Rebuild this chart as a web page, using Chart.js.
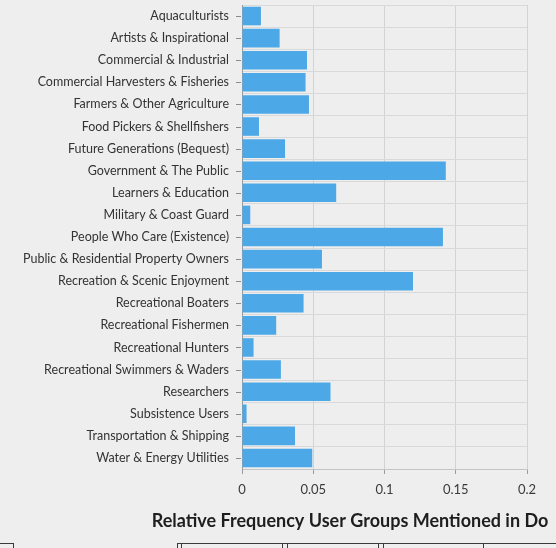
<!DOCTYPE html>
<html>
<head>
<meta charset="utf-8">
<script src="https://cdn.jsdelivr.net/npm/chart.js@4/dist/chart.umd.min.js"></script>
<style>
  html, body { margin: 0; padding: 0; background: #eeeeee; }
  #wrap { position: relative; width: 556px; height: 548px; overflow: hidden; }
  canvas { display: block; }
  .rule { position: absolute; background: #3a3a3a; }
</style>
</head>
<body>
<div id="wrap">
  <canvas id="c" width="556" height="548"></canvas>
  <!-- top edge of the table that follows the chart -->
  <div class="rule" style="left:0;top:543px;width:14px;height:1px"></div>
  <div class="rule" style="left:177px;top:543px;width:379px;height:1px"></div>
  <div class="rule" style="left:13px;top:543px;width:1px;height:5px"></div>
  <div class="rule" style="left:177px;top:543px;width:1px;height:5px"></div>
  <div class="rule" style="left:181px;top:543px;width:1px;height:5px"></div>
  <div class="rule" style="left:282px;top:543px;width:1px;height:5px"></div>
  <div class="rule" style="left:287px;top:543px;width:1px;height:5px"></div>
  <div class="rule" style="left:378px;top:543px;width:1px;height:5px"></div>
  <div class="rule" style="left:383px;top:543px;width:1px;height:5px"></div>
  <div class="rule" style="left:483px;top:543px;width:1px;height:5px"></div>
</div>
<script>
// User groups and how often each one is mentioned (relative frequency)
const userGroups = [
  'Aquaculturists',
  'Artists & Inspirational',
  'Commercial & Industrial',
  'Commercial Harvesters & Fisheries',
  'Farmers & Other Agriculture',
  'Food Pickers & Shellfishers',
  'Future Generations (Bequest)',
  'Government & The Public',
  'Learners & Education',
  'Military & Coast Guard',
  'People Who Care (Existence)',
  'Public & Residential Property Owners',
  'Recreation & Scenic Enjoyment',
  'Recreational Boaters',
  'Recreational Fishermen',
  'Recreational Hunters',
  'Recreational Swimmers & Waders',
  'Researchers',
  'Subsistence Users',
  'Transportation & Shipping',
  'Water & Energy Utilities'
];

const relativeFrequency = [
  0.0133, 0.0264, 0.0456, 0.0446, 0.0470, 0.0119, 0.0302,
  0.1430, 0.0661, 0.0058, 0.1410, 0.0561, 0.1200, 0.0432,
  0.0240, 0.0081, 0.0273, 0.0621, 0.0032, 0.0372, 0.0493
];

const xTickValues = [0, 0.05, 0.1, 0.15, 0.2];
const captionText = 'Relative Frequency User Groups Mentioned in Do';

const FONT = 'Lato, "Noto Sans", sans-serif';

// Short dashes at each category centre on the left axis, plus the caption
const axisExtras = {
  id: 'axisExtras',
  afterDraw(chart) {
    const ctx = chart.ctx;
    const y = chart.scales.y;
    ctx.save();
    ctx.strokeStyle = '#8a8a8a';
    ctx.lineWidth = 1;
    y.ticks.forEach((t, i) => {
      const py = Math.round(y.getPixelForTick(i)) + 0.5;
      ctx.beginPath();
      ctx.moveTo(y.right - 6, py);
      ctx.lineTo(y.right - 1, py);
      ctx.stroke();
    });
    ctx.fillStyle = '#1e1e1e';
    ctx.font = 'bold 18px ' + FONT;
    ctx.textAlign = 'center';
    ctx.textBaseline = 'middle';
    ctx.fillText(captionText, 350, 521);
    ctx.restore();
  }
};

new Chart(document.getElementById('c'), {
  type: 'bar',
  data: {
    labels: userGroups,
    datasets: [{
      data: relativeFrequency,
      backgroundColor: '#4ca8e6',
      borderWidth: 0,
      barPercentage: 0.84,
      categoryPercentage: 1.0
    }]
  },
  options: {
    indexAxis: 'y',
    responsive: false,
    devicePixelRatio: 1,
    animation: false,
    layout: { padding: { top: 5, right: 29, left: 0, bottom: 0 } },
    plugins: {
      legend: { display: false },
      tooltip: { enabled: false },
      title: { display: false }
    },
    scales: {
      x: {
        min: 0,
        max: 0.2,
        afterFit(scale) { scale.height = 79; },
        afterBuildTicks(scale) { scale.ticks = xTickValues.map(v => ({ value: v })); },
        ticks: {
          padding: 8,
          color: '#3a3a3a',
          font: { family: FONT, size: 13 },
          callback: v => String(+Number(v).toFixed(2))
        },
        grid: {
          color: '#d3d3d3',
          tickColor: '#9a9a9a',
          tickLength: 5,
          drawTicks: true
        },
        border: { display: true, color: '#c4c4c4' }
      },
      y: {
        afterFit(scale) {
          scale.width = 242;
          scale.paddingTop = 0;
          scale.paddingBottom = 0;
        },
        ticks: {
          padding: 13,
          color: '#333333',
          font: { family: FONT, size: 12.5 },
          autoSkip: false
        },
        grid: {
          color: '#d9d9d9',
          offset: true,
          drawTicks: false
        },
        border: { display: true, color: '#9c9c9c' }
      }
    }
  },
  plugins: [axisExtras]
});
</script>
</body>
</html>
